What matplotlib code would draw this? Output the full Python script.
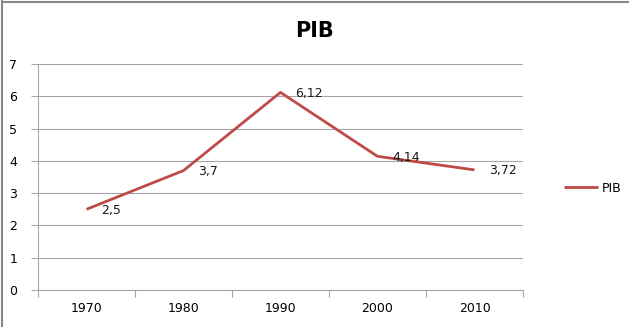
import matplotlib.pyplot as plt
from matplotlib.lines import Line2D
import numpy as np

# PIB values per decade
years = ['1970', '1980', '1990', '2000', '2010']
pib = [2.5, 3.7, 6.12, 4.14, 3.72]
pib_labels = ['2,5', '3,7', '6,12', '4,14', '3,72']

grid_col = '#A6A6A6'
line_col = '#BE4B48'

fig = plt.figure(figsize=(6.29, 3.27), dpi=100)
ax = fig.add_axes([38/629, 37/327, 485/629, 226/327])

x = np.arange(len(years))
ax.plot(x, pib, color=line_col, lw=2.0, solid_capstyle='butt', label='PIB')

# value labels to the right of each point
for xi, yi, txt in zip(x, pib, pib_labels):
    ax.annotate(txt, (xi, yi), xytext=(15, -1), textcoords='offset pixels',
                ha='left', va='center', fontsize=9, color='#1A1A1A')

ax.set_xlim(-0.5, len(years) - 0.5)
ax.set_ylim(0, 7)
ax.set_yticks(range(0, 8))
ax.yaxis.grid(True, color=grid_col, lw=0.8)
ax.set_axisbelow(True)

# category boundaries as major ticks, names centered as minor ticks
ax.set_xticks(np.arange(-0.5, len(years), 1.0))
ax.set_xticklabels([])
ax.set_xticks(x, minor=True)
ax.set_xticklabels(years, minor=True)
ax.tick_params(axis='x', which='major', length=5, color=grid_col, direction='out')
ax.tick_params(axis='x', which='minor', length=0, pad=9, labelsize=9)
ax.tick_params(axis='y', length=5, color=grid_col, pad=10, labelsize=9)

for s in ['top', 'right']:
    ax.spines[s].set_visible(False)
for s in ['left', 'bottom']:
    ax.spines[s].set_color(grid_col)
    ax.spines[s].set_linewidth(0.8)

fig.text(315/629, 1 - 31/327, 'PIB', ha='center', va='center',
         fontsize=15, fontweight='bold')

fig.legend(loc='center left', bbox_to_anchor=(553/629, 1 - 188/327),
           frameon=False, fontsize=9, handlelength=2.7, handletextpad=0.3)

# chart frame
fig.add_artist(Line2D([2/629, 2/629], [0, 1 - 1/327], color='#888888', lw=1.5))
fig.add_artist(Line2D([2/629, 1], [1 - 1.5/327, 1 - 1.5/327], color='#888888', lw=1.5))

fig.savefig('out.png', dpi=100)
